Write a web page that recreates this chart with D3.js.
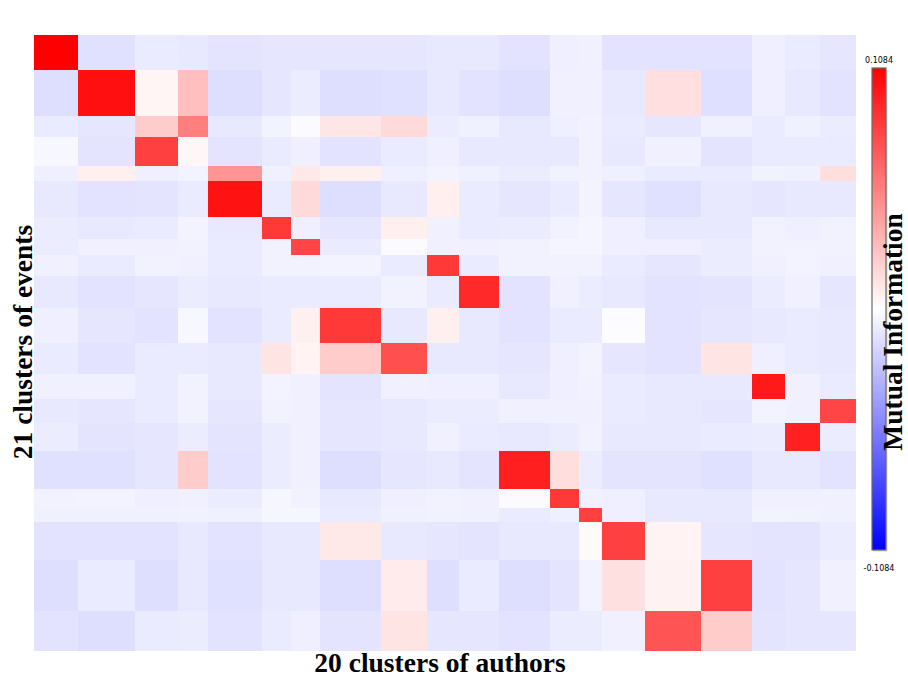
<!DOCTYPE html>
<html>
<head>
<meta charset="utf-8">
<script src="https://cdn.jsdelivr.net/npm/d3@7"></script>
<style>
  body { margin: 0; background: #fff; }
  svg { display: block; }
</style>
</head>
<body>
<svg id="canvas" width="908" height="685"></svg>
<script>
// relative cluster sizes (cell widths / heights in the picture)
var authorClusterSizes = [44, 57, 43, 30, 54, 29, 29, 61, 46, 32, 40, 51, 29, 23, 43, 56, 51, 33, 35, 36];
var eventClusterSizes = [35, 46, 21, 29, 15, 36, 22, 16, 21, 32, 35, 31, 25, 24, 28, 38, 19, 14, 38, 51, 40];

var MI_MAX = 0.1084;
var colorTicks = ['0.1084', '-0.1084'];

// mutual information, in units of 1e-4, one row per event cluster
var miRows = [
    [1084, -130, -87, -98, -114, -108, -108, -108, -108, -98, -98, -119, -70, -65, -119, -119, -119, -70, -87, -108],
    [-141, 1019, 43, 271, -141, -108, -81, -141, -130, -98, -119, -141, -65, -65, -98, 136, -136, -70, -98, -119],
    [-87, -108, 217, 542, -98, -49, -22, 108, 157, -81, -65, -98, -70, -54, -87, -108, -65, -87, -65, -81],
    [-33, -114, 813, 33, -114, -87, -70, -119, -87, -70, -98, -98, -98, -54, -98, -65, -114, -87, -87, -87],
    [-70, 70, -70, -49, 455, -65, 98, 65, -70, -49, -65, -81, -54, -54, -70, -87, -87, -54, -65, 141],
    [-98, -119, -114, -87, 1008, -87, 157, -141, -98, 70, -87, -108, -87, -49, -108, -130, -98, -108, -98, -98],
    [-81, -98, -87, -49, -98, 846, -70, -108, 70, -65, -87, -81, -54, -43, -70, -98, -98, -54, -70, -54],
    [-81, -65, -65, -54, -87, -54, 791, -87, -22, -65, -65, -54, -43, -43, -70, -70, -81, -54, -54, -54],
    [-65, -87, -54, -65, -87, -54, -54, -49, -87, 846, -87, -54, -54, -54, -87, -108, -81, -65, -49, -65],
    [-98, -119, -108, -81, -98, -87, -87, -87, -54, -87, 911, -119, -65, -81, -98, -119, -114, -81, -65, -108],
    [-70, -108, -119, -33, -119, -87, 65, 846, -98, 65, -98, -119, -87, -87, -11, -119, -108, -98, -87, -98],
    [-87, -119, -87, -87, -98, 114, 49, 217, 748, -98, -98, -108, -70, -49, -108, -119, 114, -70, -87, -98],
    [-65, -65, -87, -54, -98, -49, -65, -114, -65, -70, -70, -98, -70, -54, -87, -98, -98, 976, -65, -87],
    [-98, -108, -87, -54, -108, -54, -65, -108, -98, -81, -81, -65, -65, -65, -87, -98, -108, -49, -65, 791],
    [-81, -114, -108, -81, -114, -81, -65, -108, -98, -65, -87, -98, -81, -54, -98, -98, -87, -81, 943, -81],
    [-130, -130, -108, 217, -119, -81, -65, -141, -108, -98, -114, 954, 141, -81, -114, -114, -130, -98, -98, -119],
    [-54, -49, -70, -65, -81, -38, -54, -98, -70, -54, -65, -22, 846, -65, -70, -98, -98, -65, -65, -65],
    [-65, -65, -65, -54, -65, -38, -38, -87, -65, -54, -65, -87, -70, 813, -70, -98, -98, -49, -54, -65],
    [-119, -119, -119, -98, -119, -98, -98, 98, -98, -108, -114, -98, -98, 22, 813, 49, -108, -114, -114, -81],
    [-141, -87, -141, -98, -130, -98, -98, -141, 87, -141, -87, -141, -114, -49, 130, 54, 813, -119, -108, -65],
    [-119, -141, -87, -81, -119, -87, -70, -114, 114, -108, -108, -119, -81, -81, -65, 726, 217, -114, -108, -108]
];

var svg = d3.select('#canvas');
var plot = { left: 34, top: 35, right: 856, bottom: 651 };

function cumulative(sizes) {
    var out = [0];
    sizes.forEach(function(s, i) { out.push(out[i] + s); });
    return out;
}
var xEdges = cumulative(authorClusterSizes);
var yEdges = cumulative(eventClusterSizes);

var x = d3.scaleLinear().domain([0, xEdges[xEdges.length - 1]]).range([plot.left, plot.right]);
var y = d3.scaleLinear().domain([0, yEdges[yEdges.length - 1]]).range([plot.top, plot.bottom]);
var color = d3.scaleLinear()
    .domain([-MI_MAX, 0, MI_MAX])
    .range(['#0000ff', '#ffffff', '#ff0000'])
    .clamp(true);

var cells = [];
miRows.forEach(function(row, r) {
    row.forEach(function(v, c) {
        cells.push({ r: r, c: c, value: v * 1e-4 });
    });
});

svg.append('g')
    .selectAll('rect')
    .data(cells)
    .enter().append('rect')
    .attr('x', function(d) { return x(xEdges[d.c]); })
    .attr('y', function(d) { return y(yEdges[d.r]); })
    .attr('width', function(d) { return x(xEdges[d.c + 1]) - x(xEdges[d.c]) + 0.3; })
    .attr('height', function(d) { return y(yEdges[d.r + 1]) - y(yEdges[d.r]) + 0.3; })
    .attr('fill', function(d) { return color(d.value); })
    .attr('shape-rendering', 'crispEdges');

// colour bar
var bar = { x: 872, y: 68, w: 14, h: 482 };
var defs = svg.append('defs');
var grad = defs.append('linearGradient')
    .attr('id', 'miGrad')
    .attr('x1', 0).attr('y1', 0).attr('x2', 0).attr('y2', 1);
[MI_MAX, 0, -MI_MAX].forEach(function(v, i) {
    grad.append('stop').attr('offset', (i * 50) + '%').attr('stop-color', color(v));
});

svg.append('rect')
    .attr('x', bar.x + 1.5).attr('y', bar.y + 1.5)
    .attr('width', bar.w).attr('height', bar.h)
    .attr('fill', '#d8d8d8');
svg.append('rect')
    .attr('x', bar.x).attr('y', bar.y)
    .attr('width', bar.w).attr('height', bar.h)
    .attr('fill', 'url(#miGrad)')
    .attr('stroke', '#6a6a6a')
    .attr('stroke-width', 1.2);

svg.append('text')
    .attr('x', bar.x + bar.w / 2).attr('y', bar.y - 5)
    .attr('text-anchor', 'middle')
    .attr('font-family', 'DejaVu Sans, sans-serif')
    .attr('font-size', '8px')
    .attr('fill', '#000')
    .text(colorTicks[0]);
svg.append('text')
    .attr('x', bar.x + bar.w / 2).attr('y', bar.y + bar.h + 21)
    .attr('text-anchor', 'middle')
    .attr('font-family', 'DejaVu Sans, sans-serif')
    .attr('font-size', '8px')
    .attr('fill', '#000')
    .text(colorTicks[1]);

// titles
var titleFont = 'Liberation Serif, Times New Roman, serif';
svg.append('text')
    .attr('x', 440).attr('y', 672)
    .attr('text-anchor', 'middle')
    .attr('font-family', titleFont)
    .attr('font-weight', 'bold')
    .attr('font-size', '27.5px')
    .text('20 clusters of authors');

svg.append('text')
    .attr('transform', 'translate(32,342) rotate(-90)')
    .attr('text-anchor', 'middle')
    .attr('font-family', titleFont)
    .attr('font-weight', 'bold')
    .attr('font-size', '27.5px')
    .text('21 clusters of events');

svg.append('text')
    .attr('transform', 'translate(902,332) rotate(-90)')
    .attr('text-anchor', 'middle')
    .attr('font-family', titleFont)
    .attr('font-weight', 'bold')
    .attr('font-size', '27.5px')
    .text('Mutual Information');
</script>
</body>
</html>
